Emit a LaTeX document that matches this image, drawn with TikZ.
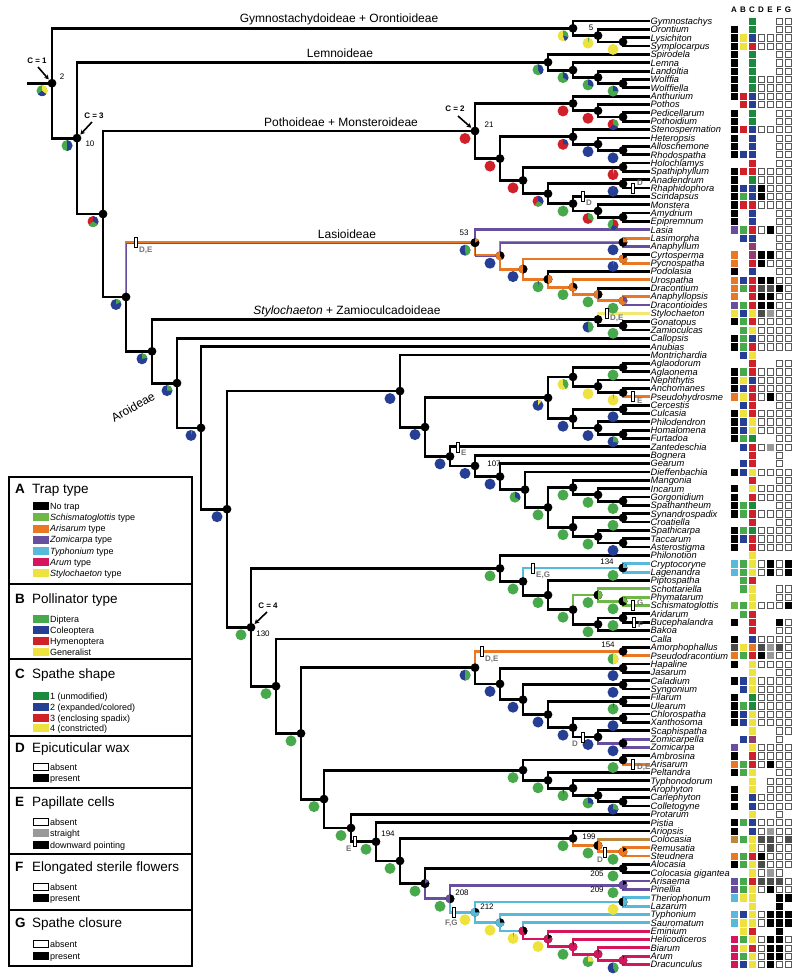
\documentclass[tikz,border=0pt]{standalone}
\usepackage{fontspec}
\setmainfont{Liberation Sans}
\usetikzlibrary{arrows.meta}

\definecolor{trapgreen}{RGB}{110,184,72}
\definecolor{dip}{RGB}{72,168,76}
\definecolor{spg}{RGB}{28,138,62}
\definecolor{aris}{RGB}{232,120,36}
\definecolor{zomi}{RGB}{104,78,158}
\definecolor{typh}{RGB}{88,186,218}
\definecolor{arum}{RGB}{214,22,92}
\definecolor{gen}{RGB}{238,226,62}
\definecolor{col}{RGB}{38,62,148}
\definecolor{hym}{RGB}{208,32,42}
\definecolor{colo}{RGB}{186,136,62}

% matrix cell colours: fill / border
\def\defcell#1#2#3{\colorlet{f#1}{#2}\colorlet{e#1}{#3}}
\defcell{k}{black}{black}
\defcell{l}{trapgreen}{trapgreen}
\defcell{g}{dip}{dip}
\defcell{G}{spg}{spg}
\defcell{o}{aris}{aris}
\defcell{p}{zomi}{zomi}
\defcell{c}{typh}{typh}
\defcell{m}{arum}{arum}
\defcell{y}{gen}{gen}
\defcell{b}{col}{col}
\defcell{r}{hym}{hym}
\defcell{s}{black!40}{black!40}
\defcell{h}{black!70}{black!70}
\defcell{q}{colo}{colo}
\defcell{v}{zomi!60!hym}{zomi!60!hym}
\defcell{w}{white}{black!65}
\defcell{n}{white}{white}

\tikzset{
  branch/.style={line width=2.8pt},
  halfout/.style={aris, line width=1.5pt, transform canvas={shift={(-0.7pt,0.7pt)}}},
  halfin/.style={zomi, line width=1.5pt, transform canvas={shift={(0.7pt,-0.7pt)}}},
  tip/.style={anchor=west, inner sep=0.5pt, text height=6.8pt, text depth=0pt, font=\fontsize{9.3}{9.3}\selectfont\itshape},
  cladename/.style={anchor=base, inner sep=0pt, font=\fontsize{12}{12}\selectfont},
  nodenum/.style={inner sep=0pt, font=\fontsize{8}{8}\selectfont},
  cval/.style={inner sep=0pt, font=\bfseries\fontsize{8}{8}\selectfont},
  carrow/.style={line width=1.6pt, shorten >=5pt, -{Stealth[length=4.5pt,width=5pt]}},
  charbar/.style={draw=black, fill=white, line width=0.6pt, minimum width=3pt, minimum height=10pt, inner sep=0pt},
  charname/.style={anchor=west, inner sep=0pt, text=black!55, font=\bfseries\fontsize{8}{8}\selectfont},
  legletter/.style={anchor=base west, inner sep=0pt, font=\bfseries\fontsize{13.5}{13.5}\selectfont},
  legtitle/.style={anchor=base west, inner sep=0pt, font=\fontsize{13.5}{13.5}\selectfont},
  legentry/.style={anchor=base west, inner sep=0pt, font=\fontsize{9}{9}\selectfont},
}

% internal nodes: name/x/y
\def\innernodes{n2/52/83.2, nGc/573/28.3, nGb/598/35.6, nGa/623/41.9,
  n10/77/138.1, nLa/548/62.25, nLb/573/70.1, nLc/598/77.4, nLd/623/83.6,
  nPM/103/214.0, n21/475/131.0, nPa/573/103.45, nPb/598/110.75, nPc/623/117.0,
  nMon/500/158.6, nSa/573/136.85, nSb/598/144.15, nSc/623/150.4, nSp/523/180.4,
  nHs/623/167.1, nRh/548/193.7, nAr/623/183.8, nSm/573/203.65, nMo/598/210.95, nAe/623/217.2,
  nLas/126/297.0, n53/475/242.7, nLsA/500/255.7, nLsB/623/242.3, nLsC/523/269.1,
  nLsD/623/258.95, nLsE/548/279.3, nLsF/573/287.15, nLsG/598/294.45, nLsH/623/300.7,
  nAro/152/351.3, nSt/598/319.5, nZa/623/325.8, nCpo/177/383.1, nAnu/201/427.9,
  nAro2/227/509.2, nMtr/400/391.05, nAgl/425/427.1, nAgr/548/397.8, nAgT/573/376.9,
  nAgA/623/367.5, nAgN/598/386.3, nAgP/623/392.6, nPhT/573/418.7, nCu/623/409.3,
  nPh/598/428.05, nHo/623/434.3, nZan/450/456.4, n107/475/465.9, nGe/500/476.6,
  nDi/525/489.65, nSpa/548/507.4, nMa/573/487.55, nIn/598/494.85, nGS/623/501.1,
  nSyn/573/527.2, nSC/623/517.8, nSpc/598/536.6, nTA/623/542.9,
  n130/251/627.3, nPhi/500/568.45, nCry/523/581.5, n134/623/567.9, nPip/548/595.1,
  nSchT/573/609.7, nSch/598/595.05, nPS/623/601.3, nBak/598/624.3, nAB/623/618.0,
  nCla/276/686.15, nCal/301/733.4, nAm/475/667.65, n154/623/651.4, nHa/500/683.9,
  nHJ/623/668.1, nCa/523/699.7, nCS/623/684.8, nFi/548/714.55, nFU/623/701.5,
  nXa/573/727.6, nCX/623/718.2, nSca/598/737.0, nZZ/623/743.3,
  nPel/324/799.1, nAmb/523/770.15, nAA/623/760.0, nPe/548/780.3, nTy/573/788.15,
  nArp/598/795.45, nCC/623/801.7, nPro/351/828.0, n194/376/841.75, nCol/400/860.9,
  n199/573/838.25, nCo/598/845.55, nRS/623/851.8, nAl/425/883.6, n205/623/868.5,
  n208/450/898.75, n209/623/885.2, n212/475/912.3, nTL/623/901.9, nTyp/500/922.7,
  nSau/523/930.9, nEm/548/939.0, nHe/573/946.8, nBi/598/954.1, nAD/623/960.4}

\begin{document}
\begin{tikzpicture}[x=1pt,y=-1pt]
%%%%% START %%%%%
\useasboundingbox (0,0) rectangle (800,980);

% tips
\foreach \name [count=\i] in {Gymnostachys, Orontium, Lysichiton, Symplocarpus, Spirodela, Lemna,
  Landoltia, Wolffia, Wolffiella, Anthurium, Pothos, Pedicellarum, Pothoidium, Stenospermation,
  Heteropsis, Alloschemone, Rhodospatha, Holochlamys, Spathiphyllum, Anadendrum, Rhaphidophora,
  Scindapsus, Monstera, Amydrium, Epipremnum, Lasia, Lasimorpha, Anaphyllum, Cyrtosperma,
  Pycnospatha, Podolasia, Urospatha, Dracontium, Anaphyllopsis, Dracontioides, Stylochaeton,
  Gonatopus, Zamioculcas, Callopsis, Anubias, Montrichardia, Aglaodorum, Aglaonema, Nephthytis,
  Anchomanes, Pseudohydrosme, Cercestis, Culcasia, Philodendron, Homalomena, Furtadoa,
  Zantedeschia, Bognera, Gearum, Dieffenbachia, Mangonia, Incarum, Gorgonidium, Spathantheum,
  Synandrospadix, Croatiella, Spathicarpa, Taccarum, Asterostigma, Philonotion, Cryptocoryne,
  Lagenandra, Piptospatha, Schottariella, Phymatarum, Schismatoglottis, Aridarum, Bucephalandra,
  Bakoa, Calla, Amorphophallus, Pseudodracontium, Hapaline, Jasarum, Caladium, Syngonium,
  Filarum, Ulearum, Chlorospatha, Xanthosoma, Scaphispatha, Zomicarpella, Zomicarpa, Ambrosina,
  Arisarum, Peltandra, Typhonodorum, Arophyton, Carlephyton, Colletogyne, Protarum, Pistia,
  Ariopsis, Colocasia, Remusatia, Steudnera, Alocasia, Colocasia gigantea, Arisaema, Pinellia,
  Theriophonum, Lazarum, Typhonium, Sauromatum, Eminium, Helicodiceros, Biarum, Arum, Dracunculus}
  \node[tip] (t\i) at (650,{21+(\i-1)*8.35}) {\name};

\foreach \n/\x/\y in \innernodes \coordinate (\n) at (\x,\y);
\coordinate (root) at (27,83.2);

% black branches
\draw[branch] (root) -- (n2);
\foreach \p/\q in {n2/nGc, n2/n10, nGc/t1, nGc/nGb, nGb/t2, nGb/nGa, nGa/t3, nGa/t4,
  n10/nLa, n10/nPM, nLa/t5, nLa/nLb, nLb/t6, nLb/nLc, nLc/t7, nLc/nLd, nLd/t8, nLd/t9,
  nPM/n21, nPM/nLas, n21/nPa, n21/nMon, nPa/t10, nPa/nPb, nPb/t11, nPb/nPc, nPc/t12, nPc/t13,
  nMon/nSa, nMon/nSp, nSa/t14, nSa/nSb, nSb/t15, nSb/nSc, nSc/t16, nSc/t17,
  nSp/nHs, nSp/nRh, nHs/t18, nHs/t19, nRh/nAr, nRh/nSm, nAr/t20, nAr/t21,
  nSm/t22, nSm/nMo, nMo/t23, nMo/nAe, nAe/t24, nAe/t25,
  nLas/nAro, nLsD/t29, nLsE/t31, nLsG/t33,
  nAro/nSt, nAro/nCpo, nSt/nZa, nZa/t37, nZa/t38, nCpo/t39, nCpo/nAnu, nAnu/t40, nAnu/nAro2,
  nAro2/nMtr, nAro2/n130, nMtr/t41, nMtr/nAgl, nAgl/nAgr, nAgl/nZan,
  nAgr/nAgT, nAgr/nPhT, nAgT/nAgA, nAgT/nAgN, nAgA/t42, nAgA/t43, nAgN/t44, nAgN/nAgP, nAgP/t45,
  nPhT/nCu, nPhT/nPh, nCu/t47, nCu/t48, nPh/t49, nPh/nHo, nHo/t50, nHo/t51,
  nZan/t52, nZan/n107, n107/t53, n107/nGe, nGe/t54, nGe/nDi, nDi/t55, nDi/nSpa,
  nSpa/nMa, nSpa/nSyn, nMa/t56, nMa/nIn, nIn/t57, nIn/nGS, nGS/t58, nGS/t59,
  nSyn/nSC, nSyn/nSpc, nSC/t60, nSC/t61, nSpc/t62, nSpc/nTA, nTA/t63, nTA/t64,
  n130/nPhi, n130/nCla, nPhi/t65, nPhi/nCry, nCry/nPip, nPip/t68, nPip/nSchT,
  nSchT/nBak, nBak/nAB, nBak/t74, nAB/t72, nAB/t73,
  nCla/t75, nCla/nCal, nCal/nAm, nCal/nPel, nAm/nHa, n154/t76,
  nHa/nHJ, nHa/nCa, nHJ/t78, nHJ/t79, nCa/nCS, nCa/nFi, nCS/t80, nCS/t81,
  nFi/nFU, nFi/nXa, nFU/t82, nFU/t83, nXa/nCX, nXa/nSca, nCX/t84, nCX/t85, nSca/t86,
  nPel/nAmb, nPel/nPro, nAmb/nAA, nAmb/nPe, nAA/t89, nPe/t91, nPe/nTy, nTy/t92, nTy/nArp,
  nArp/t93, nArp/nCC, nCC/t94, nCC/t95,
  nPro/t96, nPro/n194, n194/t97, n194/nCol, nCol/n199, nCol/nAl, n199/t98,
  nAl/n205, n205/t102, n205/t103}
  \draw[branch] (\p) |- (\q);

% coloured branches
\foreach \p/\q in {nLsA/nLsC, nLsB/t27, nLsC/nLsD, nLsC/nLsE,
  nLsD/t30, nLsE/nLsF, nLsF/t32, nLsF/nLsG, nLsG/nLsH, nLsH/t34, nAgP/t46, nAm/n154, n154/t77,
  nAA/t90, n199/nCo, nCo/nRS, nRS/t100, nRS/t101}
  \draw[branch, aris] (\p) |- (\q);
% two-tone stems (Arisarum + Zomicarpa type)
\foreach \p/\q in {nLas/n53, n53/nLsA, nLsA/nLsB}
{
  \draw[halfout] (\p) |- (\q);
  \draw[halfin] (\p) |- (\q);
}
\foreach \p/\q in {n53/t26, nLsB/t28, nLsH/t35, nSca/nZZ, nZZ/t87, nZZ/t88, nAl/n208,
  n208/n209, n209/t104, n209/t105}
  \draw[branch, zomi] (\p) |- (\q);
\foreach \p/\q in {nCry/n134, n134/t66, n134/t67, n208/n212, n212/nTL, nTL/t106, nTL/t107,
  n212/nTyp, nTyp/t108, nTyp/nSau, nSau/t109}
  \draw[branch, typh] (\p) |- (\q);
\foreach \p/\q in {nSchT/nSch, nSch/t69, nSch/nPS, nPS/t70, nPS/t71}
  \draw[branch, trapgreen] (\p) |- (\q);
\foreach \p/\q in {nSau/nEm, nEm/t110, nEm/nHe, nHe/t111, nHe/nBi, nBi/t112, nBi/nAD,
  nAD/t113, nAD/t114}
  \draw[branch, arum] (\p) |- (\q);
\draw[branch, gen!75!white] (nSt) |- (t36);
\draw[branch, colo] (nCo) |- (t99);

% trap type at nodes
\foreach \n/\x/\y in \innernodes \fill (\n) circle (4.4);
\foreach \n/\a/\b/\ang in {n53/black/aris/60, nLsA/aris/black/150, nLsB/black/aris/90,
  nLsC/aris/black/180, nLsD/aris/black/60, nLsE/black/aris/180, nLsF/aris/black/120,
  nLsG/aris/black/180, nLsH/aris/zomi/120, nSch/black/trapgreen/180, nPS/black/trapgreen/120,
  n134/black/typh/90, nCo/black/aris/180, nRS/aris/black/60, nAl/black/zomi/60,
  n208/zomi/black/180, n209/zomi/black/60, n212/typh/black/90, nTL/black/typh/180,
  nTyp/typh/black/90, nSau/arum/black/150, nEm/arum/black/60, nHe/arum/black/10,
  nBi/arum/black/10, nAD/arum/black/10}
{
  \fill[\a] (\n) circle (4.4);
  \fill[\b] (\n) -- ++(-90:4.4) arc[start angle=-90, delta angle=\ang, radius=4.4] -- cycle;
}

% pollinator pies
\foreach \n/\a/\b/\ang/\c/\angb in {n2/dip/gen/130/col/100, n10/dip/col/180/col/0,
  nPM/hym/col/120/dip/110, nLas/col/dip/60/col/0, nAro/col/dip/80/col/0, nCpo/col/dip/90/col/0,
  nAnu/col/dip/15/col/0, nAro2/col/col/0/col/0, nMtr/col/col/0/col/0, nAgl/col/col/0/col/0,
  nZan/col/col/0/col/0, n107/col/col/0/col/0, nGe/col/col/0/col/0, nDi/dip/col/120/col/0,
  nSpa/dip/dip/0/col/0, nMa/dip/dip/0/col/0, nIn/dip/dip/0/col/0, nGS/dip/dip/0/col/0,
  nSyn/dip/dip/0/col/0, nSC/dip/dip/0/col/0, nSpc/dip/dip/0/col/0, nTA/col/col/0/col/0,
  nGc/gen/dip/100/col/60, nGb/gen/dip/15/col/0, nGa/gen/gen/0/col/0, nLa/dip/col/150/col/0,
  nLb/dip/col/120/col/0, nLc/dip/col/110/col/0, nLd/dip/col/90/col/0, n21/hym/hym/0/col/0,
  nPa/hym/hym/0/col/0, nPb/hym/hym/0/col/0, nPc/hym/dip/120/col/100, nMon/hym/hym/0/col/0,
  nSa/hym/col/90/col/0, nSb/col/col/0/col/0, nSc/col/col/0/col/0, nSp/hym/hym/0/col/0,
  nHs/hym/gen/10/col/0, nRh/hym/col/120/dip/100, nAr/col/hym/15/col/0, nSm/dip/hym/5/col/0,
  nMo/hym/dip/120/col/0, nAe/dip/hym/120/col/90, n53/col/dip/170/col/0, nLsA/col/col/0/col/0,
  nLsB/col/col/0/col/0, nLsC/col/col/0/col/0, nLsD/col/dip/10/col/0, nLsE/dip/col/10/col/0,
  nLsF/dip/dip/0/col/0, nLsG/dip/dip/0/col/0, nLsH/dip/dip/0/col/0, nSt/col/dip/170/col/0,
  nZa/dip/dip/0/col/0, nAgr/col/gen/40/col/0, nAgT/gen/dip/150/col/0, nAgA/dip/dip/0/col/0,
  nAgN/gen/gen/0/col/0, nAgP/gen/dip/10/col/0, nPhT/col/col/0/col/0, nCu/col/col/0/col/0,
  nPh/col/col/0/col/0, nHo/col/dip/100/col/0, nPhi/dip/dip/0/col/0, nCry/dip/dip/0/col/0,
  n134/dip/dip/0/col/0, nPip/dip/dip/0/col/0, nSchT/dip/dip/0/col/0, nSch/dip/dip/0/col/0,
  nPS/dip/dip/0/col/0, nBak/dip/dip/0/col/0, nAB/dip/dip/0/col/0, n130/dip/dip/0/col/0,
  nCla/dip/dip/0/col/0, nCal/dip/dip/0/col/0, nAm/col/dip/180/col/0, n154/dip/gen/180/col/0,
  nHa/col/col/0/col/0, nHJ/col/col/0/col/0, nCa/col/col/0/col/0, nCS/col/col/0/col/0,
  nFi/col/col/0/col/0, nFU/dip/col/10/col/0, nXa/col/col/0/col/0, nCX/col/col/0/col/0,
  nSca/col/col/0/col/0, nZZ/col/col/0/col/0, nPel/dip/dip/0/col/0, nAmb/dip/dip/0/col/0,
  nAA/dip/dip/0/col/0, nPe/dip/dip/0/col/0, nTy/dip/col/10/col/0, nArp/dip/col/100/col/0,
  nCC/col/dip/100/col/0, nPro/dip/dip/0/col/0, n194/dip/dip/0/col/0, nCol/dip/dip/0/col/0,
  n199/dip/dip/0/col/0, nCo/dip/dip/0/col/0, nRS/dip/dip/0/col/0, nAl/dip/dip/0/col/0,
  n205/dip/dip/0/col/0, n208/dip/dip/0/col/0, n209/dip/dip/0/col/0, n212/gen/gen/0/col/0,
  nTL/gen/gen/0/col/0, nTyp/gen/gen/0/col/0, nSau/gen/dip/10/col/0, nEm/gen/gen/0/col/0,
  nHe/dip/dip/0/col/0, nBi/dip/gen/90/col/0, nAD/col/dip/150/col/0}
{
  \fill[\a] (\n) ++(-10,7.5) circle (5.5);
  \ifnum\ang>0
    \fill[\b] (\n) ++(-10,7.5) -- ++(-90:5.5) arc[start angle=-90, delta angle=\ang, radius=5.5] -- cycle;
  \fi
  \ifnum\angb>0
    \fill[\c] (\n) ++(-10,7.5) -- ++({-90+\ang}:5.5) arc[start angle={-90+\ang}, delta angle=\angb, radius=5.5] -- cycle;
  \fi
}

% character changes
\foreach \x/\y/\t/\lx/\ly in {136/242.7/{D,E}/139/250, 583/196.35/D/586/203, 633/188/D/637/183,
  607/313.25/{D,E}/610/318, 633/396.75/E/637/401, 458/446.85/E/461/453, 533/567.9/{E,G}/536/575,
  633/605.5/G/637/603, 634/622.2/F/638/625, 482/651.4/{D,E}/485/659, 583/737/D/572/744,
  633/764.15/{D,E}/637/767, 355/841.75/E/346/849, 605/851.8/D/597/860, 454/912.3/{F,G}/445/923}
{
  \node[charbar] at (\x,\y) {};
  \node[charname] at (\lx,\ly) {\t};
}

% clade names
\node[cladename] (gymno) at (339,22) {Gymnostachydoideae + Orontioideae};
\node[cladename] (lemno) at (340,57) {Lemnoideae};
\node[cladename] (pothoi) at (341,126) {Pothoideae + Monsteroideae};
\node[cladename] (lasio) at (347,238) {Lasioideae};
\node[cladename] (zamio) at (347,314) {\textit{Stylochaeton} + Zamioculcadoideae};
\node[rotate=30, inner sep=0pt, font=\fontsize{12}{12}\selectfont] (aroid) at (133,407) {Aroideae};

% node numbers
\foreach \x/\y/\t in {62/77/2, 90/144/10, 489/125/21, 464/233/53, 591/28/5, 494/464/107,
  607/562/134, 608/645/154, 388/834/194, 589/837/199, 597/874/205, 462/893/208,
  597/890/209, 487/907/212, 263/634/130}
  \node[nodenum] at (\x,\y) {\t};

% C values
\node[cval] (cOne) at (37,61) {C = 1};
\node[cval] (cThree) at (94,116) {C = 3};
\node[cval] (cTwo) at (455,109) {C = 2};
\node[cval] (cFour) at (268,606) {C = 4};
\coordinate (cOneTail) at (38,67);
\coordinate (cThreeTail) at (92,122);
\coordinate (cTwoTail) at (458,116);
\coordinate (cFourTail) at (267,612);
\draw[carrow] (cOneTail) -- (n2);
\draw[carrow] (cThreeTail) -- (n10);
\draw[carrow] (cTwoTail) -- (n21);
\draw[carrow] (cFourTail) -- (n130);

% character matrix
\foreach \l [count=\j] in {A,B,C,D,E,F,G}
  \node[inner sep=0pt, font=\bfseries\fontsize{8}{8}\selectfont] at ({725+\j*9},10) {\l};
\foreach \r [count=\i] in {{n,n,G,n,n,w,w},{k,n,G,n,n,w,w},{k,y,b,w,w,w,w},{k,y,r,w,w,w,w},
  {k,n,G,n,n,w,w},{k,n,G,n,n,w,w},{k,n,G,n,n,w,w},{k,n,G,w,w,w,w},{k,n,G,w,w,w,w},
  {k,r,b,w,w,w,w},{n,r,b,w,w,w,w},{k,n,G,n,n,w,w},{k,n,G,n,n,w,w},{k,r,b,w,w,w,w},
  {k,n,b,n,n,w,w},{k,n,b,n,n,w,w},{k,b,b,n,n,w,w},{n,n,r,n,n,w,w},{k,r,r,w,w,w,w},
  {k,n,G,w,w,w,w},{k,b,b,k,w,w,w},{k,g,b,k,w,w,w},{k,r,r,w,w,w,w},{k,n,b,n,n,w,w},
  {k,n,b,n,n,w,w},{p,g,r,w,k,w,w},{n,b,b,n,n,w,w},{n,n,v,n,n,w,w},{o,n,v,k,k,w,w},
  {o,n,r,k,w,w,w},{k,n,b,n,n,w,w},{o,b,r,k,k,w,w},{o,g,r,h,h,k,w},{o,n,r,k,k,w,w},
  {p,g,r,k,k,w,w},{y,b,y,h,s,w,w},{k,g,r,w,w,w,w},{n,g,y,w,w,w,w},{k,g,b,w,w,w,w},
  {k,g,r,w,w,w,w},{n,b,y,n,n,n,n},{n,n,r,n,n,w,w},{k,g,r,w,w,w,w},{k,y,b,w,w,w,w},
  {k,b,r,w,w,w,w},{o,y,r,w,k,w,w},{n,b,r,n,n,w,w},{k,y,r,w,w,w,w},{k,b,y,w,w,w,w},
  {k,b,y,w,w,w,w},{k,g,G,n,n,w,w},{n,b,r,w,s,w,w},{n,n,r,n,n,w,n},{n,b,r,n,n,w,n},
  {k,b,y,w,w,w,w},{n,n,r,n,n,w,w},{k,n,y,w,w,w,w},{k,n,r,w,w,w,w},{k,g,G,n,n,w,w},
  {k,g,r,w,w,w,w},{n,n,r,n,n,w,w},{k,g,G,w,w,w,w},{k,b,r,w,w,w,w},{k,n,r,w,w,w,w},
  {n,n,y,n,n,n,n},{c,g,y,w,k,w,k},{c,g,y,w,k,w,k},{n,g,r,n,n,n,n},{n,g,y,n,n,w,w},
  {n,n,y,n,n,w,w},{l,g,y,w,w,w,k},{n,g,r,n,n,n,n},{k,n,r,n,n,k,w},{n,n,r,n,n,w,w},
  {k,n,b,w,w,w,w},{h,y,o,h,s,h,w},{o,g,r,k,s,w,w},{k,n,y,w,w,w,w},{n,n,y,n,n,w,w},
  {k,b,y,w,w,w,w},{n,b,y,w,w,w,w},{k,n,G,w,w,w,w},{k,g,G,w,w,w,w},{k,b,y,w,w,w,w},
  {k,b,y,w,w,w,w},{n,n,y,n,n,w,w},{n,b,v,n,n,w,n},{p,n,y,w,w,w,w},{k,n,r,w,w,w,w},
  {o,g,r,w,k,w,w},{k,g,y,n,n,w,w},{n,n,y,n,w,w,w},{k,n,y,n,w,w,w},{k,n,b,w,w,w,w},
  {k,n,b,w,w,w,w},{n,n,y,n,n,w,n},{k,g,b,w,w,w,w},{k,n,b,w,s,w,w},{q,g,y,h,h,w,h},
  {n,n,y,w,h,w,w},{o,g,r,k,w,w,w},{k,g,y,h,w,w,w},{n,n,y,w,s,w,n},{p,g,r,h,h,h,w},
  {p,g,y,w,k,w,w},{c,y,y,n,n,k,k},{n,n,y,n,n,k,n},{c,b,y,w,k,k,k},{c,y,y,w,k,k,k},
  {n,y,r,n,n,k,n},{m,g,y,w,k,k,w},{m,y,r,w,k,k,w},{m,g,y,w,k,k,w},{m,b,y,w,k,w,w}}
  \foreach \c [count=\j] in \r
    \filldraw[fill=f\c, draw=e\c, line width=0.5pt] ({725+\j*9-3.1},{21+(\i-1)*8.35-3.1}) rectangle ++(6.2,6.2);

% legend
\draw[line width=1.1pt] (9,477) rectangle (192,966);
\foreach \y in {584,659,736,788,854,910} \draw[line width=1.1pt] (9,\y) -- (192,\y);
\foreach \l/\t/\y in {A/Trap type/489, B/Pollinator type/599, C/Spathe shape/674,
  D/Epicuticular wax/748, E/Papillate cells/802, F/Elongated sterile flowers/867, G/Spathe closure/923}
{
  \node[legletter] at (15,\y+4.6) {\l};
  \node[legtitle] at (32,\y+4.6) {\t};
}
\foreach \c/\d/\t/\y in {black/black/No trap/506, trapgreen/trapgreen/{\textit{Schismatoglottis} type}/517.2,
  aris/aris/{\textit{Arisarum} type}/528.4, zomi/zomi/{\textit{Zomicarpa} type}/539.6,
  typh/typh/{\textit{Typhonium} type}/550.8, arum/arum/{\textit{Arum} type}/562,
  gen/gen/{\textit{Stylochaeton} type}/573.2,
  dip/dip/Diptera/619, col/col/Coleoptera/630, hym/hym/Hymenoptera/641, gen/gen/Generalist/652,
  spg/spg/{1 (unmodified)}/696, col/col/{2 (expanded/colored)}/707, hym/hym/{3 (enclosing spadix)}/718,
  gen/gen/{4 (constricted)}/728,
  white/black/absent/767, black/black/present/778,
  white/black/absent/822, black!40/black!40/straight/833, black/black/downward pointing/845,
  white/black/absent/887, black/black/present/898,
  white/black/absent/944, black/black/present/956}
{
  \filldraw[fill=\c, draw=\d, line width=0.6pt] (33,\y-3.5) rectangle (48,\y+3.5);
  \node[legentry] at (50,\y+3.2) {\t};
}
%%%%% END %%%%%
\end{tikzpicture}
\end{document}
